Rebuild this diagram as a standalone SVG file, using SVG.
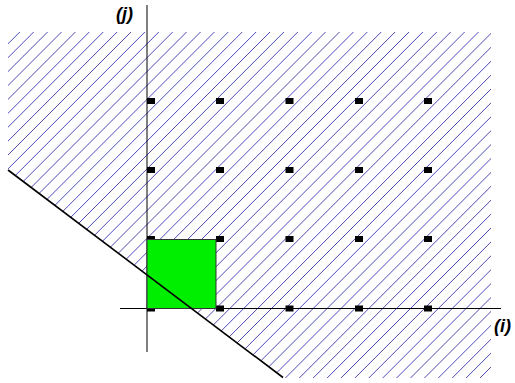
<svg xmlns="http://www.w3.org/2000/svg" width="515" height="383" viewBox="0 0 515 383">
<style>
.axis{stroke:#000;stroke-width:1;fill:none}
.dot{fill:#000}
.hatch{stroke:#4a4ab8;stroke-width:1;fill:none}
.lbl{font-family:"Liberation Sans",Arial,sans-serif;font-weight:bold;font-style:italic;font-size:18px;fill:#000}
</style>
<defs>
<clipPath id="regionClip">
<polygon points="8,32 491,32 491,378 283,378 8,170"/>
</clipPath>
</defs>
<g id="region" clip-path="url(#regionClip)">
<path class="hatch" d="M-328.2,380L21.8,30M-314.3,380L35.7,30M-300.4,380L49.6,30M-286.5,380L63.5,30M-272.6,380L77.4,30M-258.7,380L91.3,30M-244.8,380L105.2,30M-230.9,380L119.1,30M-217,380L133,30M-203.1,380L146.9,30M-189.2,380L160.8,30M-175.3,380L174.7,30M-161.4,380L188.6,30M-147.5,380L202.5,30M-133.6,380L216.4,30M-119.7,380L230.3,30M-105.8,380L244.2,30M-91.9,380L258.1,30M-78,380L272,30M-64.1,380L285.9,30M-50.2,380L299.8,30M-36.3,380L313.7,30M-22.4,380L327.6,30M-8.5,380L341.5,30M5.4,380L355.4,30M19.3,380L369.3,30M33.2,380L383.2,30M47.1,380L397.1,30M61,380L411,30M74.9,380L424.9,30M88.8,380L438.8,30M102.7,380L452.7,30M116.6,380L466.6,30M130.5,380L480.5,30M144.4,380L494.4,30M158.3,380L508.3,30M172.2,380L522.2,30M186.1,380L536.1,30M200,380L550,30M213.9,380L563.9,30M227.8,380L577.8,30M241.7,380L591.7,30M255.6,380L605.6,30M269.5,380L619.5,30M283.4,380L633.4,30M297.3,380L647.3,30M311.2,380L661.2,30M325.1,380L675.1,30M339,380L689,30M352.9,380L702.9,30M366.8,380L716.8,30M380.7,380L730.7,30M394.6,380L744.6,30M408.5,380L758.5,30M422.4,380L772.4,30M436.3,380L786.3,30M450.2,380L800.2,30M464.1,380L814.1,30M478,380L828,30"/>
</g>
<g id="connectors">
<line class="axis" x1="147" y1="5" x2="147" y2="352"/>
<line class="axis" x1="120" y1="308.5" x2="501" y2="308.5"/>
</g>
<g id="points">
<rect class="dot" x="147" y="98" width="8" height="6"/>
<rect class="dot" x="216" y="98" width="8" height="6"/>
<rect class="dot" x="285.5" y="98" width="8" height="6"/>
<rect class="dot" x="355" y="98" width="8" height="6"/>
<rect class="dot" x="424" y="98" width="8" height="6"/>
<rect class="dot" x="147" y="167" width="8" height="6"/>
<rect class="dot" x="216" y="167" width="8" height="6"/>
<rect class="dot" x="285.5" y="167" width="8" height="6"/>
<rect class="dot" x="355" y="167" width="8" height="6"/>
<rect class="dot" x="424" y="167" width="8" height="6"/>
<rect class="dot" x="147" y="236" width="8" height="6"/>
<rect class="dot" x="216" y="236" width="8" height="6"/>
<rect class="dot" x="285.5" y="236" width="8" height="6"/>
<rect class="dot" x="355" y="236" width="8" height="6"/>
<rect class="dot" x="424" y="236" width="8" height="6"/>
<rect class="dot" x="147" y="305.5" width="8" height="6"/>
<rect class="dot" x="216" y="305.5" width="8" height="6"/>
<rect class="dot" x="285.5" y="305.5" width="8" height="6"/>
<rect class="dot" x="355" y="305.5" width="8" height="6"/>
<rect class="dot" x="424" y="305.5" width="8" height="6"/>
</g>
<g id="box">
<rect x="147" y="239.5" width="69" height="69" fill="#00ee00" stroke="#333" stroke-width="1"/>
</g>
<g id="boundary">
<line x1="8" y1="170" x2="283" y2="377.5" stroke="#000" stroke-width="1.6"/>
</g>
<text class="lbl" x="116" y="20">(j)</text>
<text class="lbl" x="494" y="332">(i)</text>
</svg>
